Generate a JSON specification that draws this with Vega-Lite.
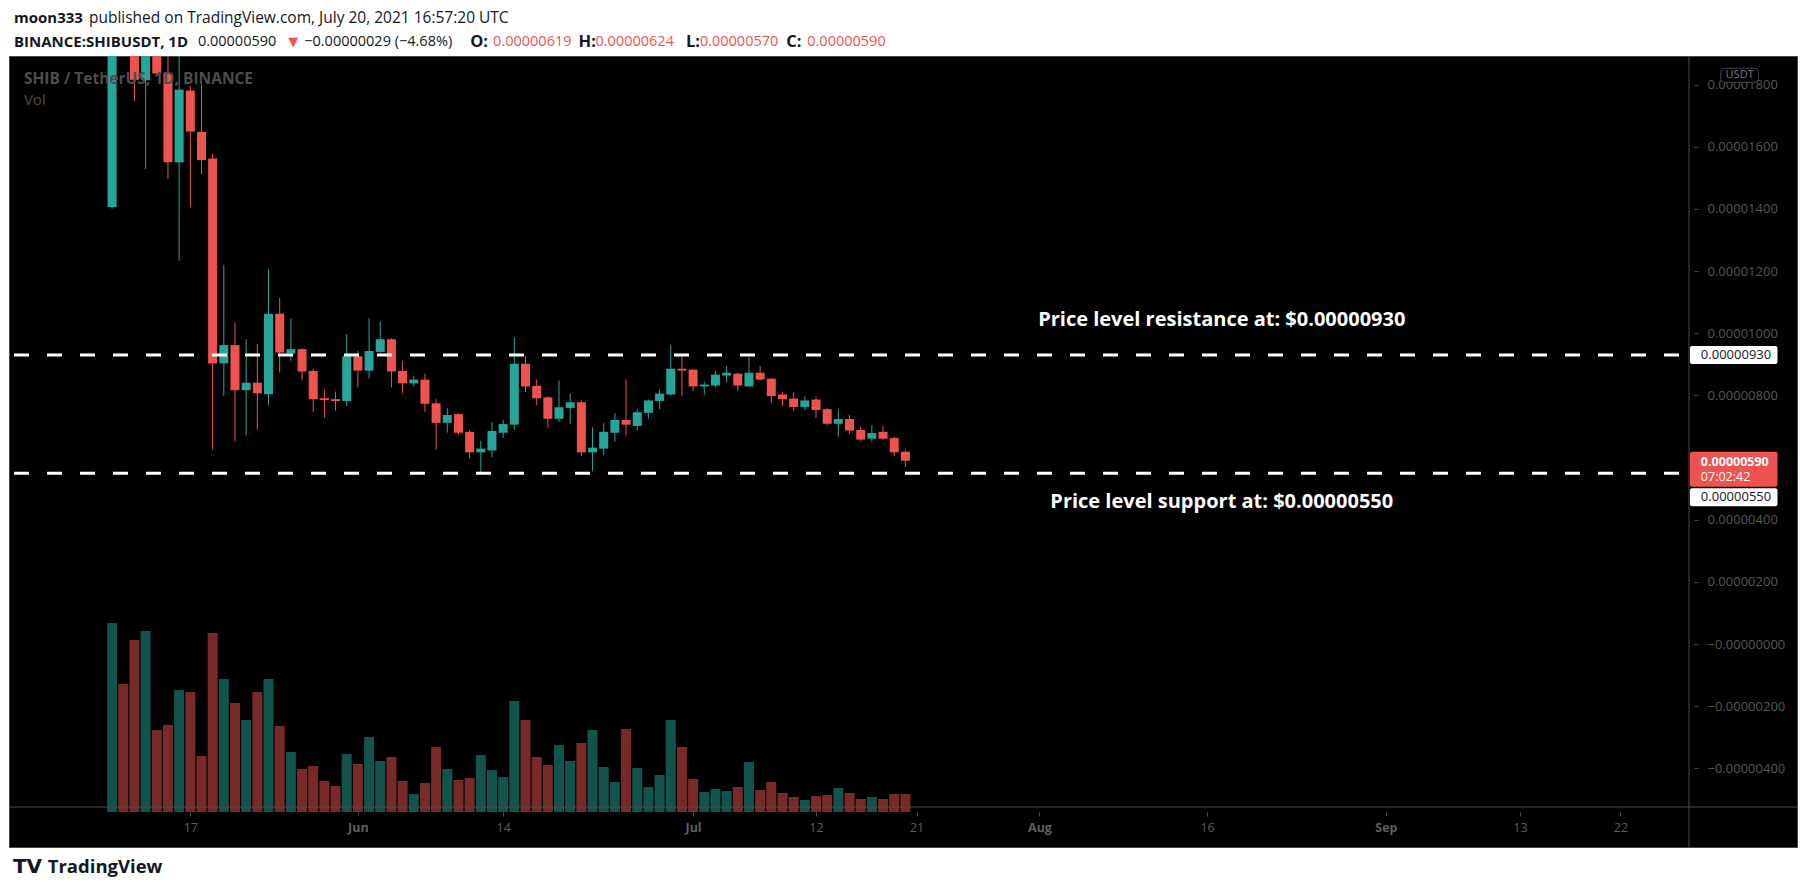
{
  "$schema": "https://vega.github.io/schema/vega-lite/v6.json",
  "width": 1788,
  "height": 791,
  "autosize": {"type": "none"},
  "padding": {"left": 9, "top": 56, "right": 8, "bottom": 47},
  "background": "white",
  "config": {
    "view": {"fill": "#000000", "stroke": "#4a4a4a", "strokeWidth": 1},
    "font": "Open Sans"
  },
  "datasets": {
    "ohlc": [
      {"date": "2021-05-10", "open": 0.00001406, "high": 0.0000388, "low": 0.000014, "close": 0.0000295, "vol": 18.9},
      {"date": "2021-05-11", "open": 0.0000295, "high": 0.000033, "low": 0.0000205, "close": 0.0000225, "vol": 12.8},
      {"date": "2021-05-12", "open": 0.0000225, "high": 0.0000235, "low": 0.00001747, "close": 0.00001816, "vol": 17.2},
      {"date": "2021-05-13", "open": 0.00001814, "high": 0.000023, "low": 0.00001528, "close": 0.0000205, "vol": 18.1},
      {"date": "2021-05-14", "open": 0.0000205, "high": 0.0000215, "low": 0.00001826, "close": 0.00001836, "vol": 8.2},
      {"date": "2021-05-15", "open": 0.00001838, "high": 0.0000195, "low": 0.00001496, "close": 0.0000155, "vol": 8.7},
      {"date": "2021-05-16", "open": 0.0000155, "high": 0.0000195, "low": 0.00001233, "close": 0.00001784, "vol": 12.2},
      {"date": "2021-05-17", "open": 0.00001781, "high": 0.00001795, "low": 0.00001406, "close": 0.00001649, "vol": 12.0},
      {"date": "2021-05-18", "open": 0.00001648, "high": 0.000018, "low": 0.00001512, "close": 0.00001557, "vol": 5.6},
      {"date": "2021-05-19", "open": 0.00001562, "high": 0.00001578, "low": 0.00000626, "close": 0.00000903, "vol": 17.9},
      {"date": "2021-05-20", "open": 0.00000903, "high": 0.00001219, "low": 0.00000798, "close": 0.00000962, "vol": 13.3},
      {"date": "2021-05-21", "open": 0.00000962, "high": 0.00001035, "low": 0.00000652, "close": 0.00000817, "vol": 10.9},
      {"date": "2021-05-22", "open": 0.00000817, "high": 0.00000981, "low": 0.00000671, "close": 0.00000841, "vol": 9.2},
      {"date": "2021-05-23", "open": 0.00000841, "high": 0.00000965, "low": 0.0000069, "close": 0.00000807, "vol": 12.0},
      {"date": "2021-05-24", "open": 0.00000804, "high": 0.00001206, "low": 0.00000769, "close": 0.00001063, "vol": 13.3},
      {"date": "2021-05-25", "open": 0.00001063, "high": 0.00001114, "low": 0.00000874, "close": 0.00000938, "vol": 8.6},
      {"date": "2021-05-26", "open": 0.00000935, "high": 0.00001048, "low": 0.00000911, "close": 0.00000949, "vol": 6.0},
      {"date": "2021-05-27", "open": 0.00000949, "high": 0.00000952, "low": 0.00000849, "close": 0.00000877, "vol": 4.3},
      {"date": "2021-05-28", "open": 0.00000879, "high": 0.00000886, "low": 0.00000747, "close": 0.00000788, "vol": 4.6},
      {"date": "2021-05-29", "open": 0.00000791, "high": 0.00000819, "low": 0.00000728, "close": 0.00000785, "vol": 3.1},
      {"date": "2021-05-30", "open": 0.00000788, "high": 0.00000813, "low": 0.00000751, "close": 0.00000782, "vol": 2.6},
      {"date": "2021-05-31", "open": 0.00000782, "high": 0.00000997, "low": 0.00000766, "close": 0.00000926, "vol": 5.8},
      {"date": "2021-06-01", "open": 0.00000926, "high": 0.00000943, "low": 0.00000826, "close": 0.0000088, "vol": 4.8},
      {"date": "2021-06-02", "open": 0.0000088, "high": 0.00001048, "low": 0.00000855, "close": 0.00000943, "vol": 7.5},
      {"date": "2021-06-03", "open": 0.0000094, "high": 0.00001038, "low": 0.00000938, "close": 0.00000981, "vol": 5.1},
      {"date": "2021-06-04", "open": 0.00000981, "high": 0.00000984, "low": 0.00000826, "close": 0.00000877, "vol": 5.5},
      {"date": "2021-06-05", "open": 0.00000879, "high": 0.00000911, "low": 0.00000807, "close": 0.00000839, "vol": 3.1},
      {"date": "2021-06-06", "open": 0.00000839, "high": 0.00000863, "low": 0.00000829, "close": 0.00000851, "vol": 1.8},
      {"date": "2021-06-07", "open": 0.00000851, "high": 0.0000087, "low": 0.00000747, "close": 0.00000773, "vol": 2.9},
      {"date": "2021-06-08", "open": 0.00000775, "high": 0.00000788, "low": 0.00000626, "close": 0.00000712, "vol": 6.5},
      {"date": "2021-06-09", "open": 0.00000712, "high": 0.00000759, "low": 0.0000068, "close": 0.00000737, "vol": 4.3},
      {"date": "2021-06-10", "open": 0.0000074, "high": 0.00000743, "low": 0.00000674, "close": 0.0000068, "vol": 3.2},
      {"date": "2021-06-11", "open": 0.00000683, "high": 0.00000689, "low": 0.00000598, "close": 0.00000617, "vol": 3.4},
      {"date": "2021-06-12", "open": 0.00000617, "high": 0.00000654, "low": 0.00000553, "close": 0.00000629, "vol": 5.7},
      {"date": "2021-06-13", "open": 0.00000623, "high": 0.00000714, "low": 0.00000601, "close": 0.00000686, "vol": 4.2},
      {"date": "2021-06-14", "open": 0.0000068, "high": 0.00000721, "low": 0.00000664, "close": 0.00000708, "vol": 3.5},
      {"date": "2021-06-15", "open": 0.00000706, "high": 0.00000987, "low": 0.0000069, "close": 0.00000902, "vol": 11.1},
      {"date": "2021-06-16", "open": 0.00000902, "high": 0.00000927, "low": 0.00000811, "close": 0.00000829, "vol": 9.2},
      {"date": "2021-06-17", "open": 0.00000831, "high": 0.00000851, "low": 0.00000769, "close": 0.00000791, "vol": 5.5},
      {"date": "2021-06-18", "open": 0.00000794, "high": 0.00000797, "low": 0.00000696, "close": 0.00000725, "vol": 4.7},
      {"date": "2021-06-19", "open": 0.00000725, "high": 0.00000848, "low": 0.00000715, "close": 0.00000762, "vol": 6.7},
      {"date": "2021-06-20", "open": 0.0000076, "high": 0.00000806, "low": 0.00000709, "close": 0.00000778, "vol": 5.1},
      {"date": "2021-06-21", "open": 0.00000778, "high": 0.00000784, "low": 0.00000604, "close": 0.00000617, "vol": 6.9},
      {"date": "2021-06-22", "open": 0.00000617, "high": 0.00000698, "low": 0.00000556, "close": 0.00000632, "vol": 8.2},
      {"date": "2021-06-23", "open": 0.00000629, "high": 0.00000711, "low": 0.00000607, "close": 0.00000683, "vol": 4.5},
      {"date": "2021-06-24", "open": 0.0000068, "high": 0.00000743, "low": 0.00000652, "close": 0.00000721, "vol": 3.0},
      {"date": "2021-06-25", "open": 0.00000721, "high": 0.00000851, "low": 0.00000671, "close": 0.00000706, "vol": 8.3},
      {"date": "2021-06-26", "open": 0.00000702, "high": 0.00000756, "low": 0.00000687, "close": 0.00000746, "vol": 4.4},
      {"date": "2021-06-27", "open": 0.00000744, "high": 0.00000787, "low": 0.00000725, "close": 0.00000784, "vol": 2.5},
      {"date": "2021-06-28", "open": 0.00000782, "high": 0.00000819, "low": 0.00000756, "close": 0.00000806, "vol": 3.7},
      {"date": "2021-06-29", "open": 0.00000803, "high": 0.00000962, "low": 0.00000801, "close": 0.00000886, "vol": 9.2},
      {"date": "2021-06-30", "open": 0.00000886, "high": 0.00000927, "low": 0.00000798, "close": 0.0000088, "vol": 6.5},
      {"date": "2021-07-01", "open": 0.00000883, "high": 0.00000884, "low": 0.00000814, "close": 0.00000829, "vol": 3.3},
      {"date": "2021-07-02", "open": 0.00000829, "high": 0.00000844, "low": 0.00000801, "close": 0.00000835, "vol": 2.0},
      {"date": "2021-07-03", "open": 0.00000832, "high": 0.00000879, "low": 0.00000826, "close": 0.00000867, "vol": 2.3},
      {"date": "2021-07-04", "open": 0.00000864, "high": 0.00000895, "low": 0.00000842, "close": 0.00000873, "vol": 2.1},
      {"date": "2021-07-05", "open": 0.0000087, "high": 0.00000873, "low": 0.00000814, "close": 0.00000832, "vol": 2.5},
      {"date": "2021-07-06", "open": 0.00000829, "high": 0.00000924, "low": 0.00000828, "close": 0.00000873, "vol": 5.0},
      {"date": "2021-07-07", "open": 0.00000873, "high": 0.00000895, "low": 0.00000849, "close": 0.00000851, "vol": 2.2},
      {"date": "2021-07-08", "open": 0.00000854, "high": 0.00000855, "low": 0.00000775, "close": 0.00000798, "vol": 3.0},
      {"date": "2021-07-09", "open": 0.00000803, "high": 0.0000081, "low": 0.00000766, "close": 0.00000788, "vol": 1.9},
      {"date": "2021-07-10", "open": 0.0000079, "high": 0.0000081, "low": 0.00000751, "close": 0.00000763, "vol": 1.5},
      {"date": "2021-07-11", "open": 0.00000763, "high": 0.00000797, "low": 0.00000753, "close": 0.00000784, "vol": 1.2},
      {"date": "2021-07-12", "open": 0.00000787, "high": 0.00000797, "low": 0.00000728, "close": 0.00000753, "vol": 1.6},
      {"date": "2021-07-13", "open": 0.00000756, "high": 0.00000759, "low": 0.00000703, "close": 0.00000709, "vol": 1.7},
      {"date": "2021-07-14", "open": 0.00000709, "high": 0.00000756, "low": 0.00000668, "close": 0.00000724, "vol": 2.4},
      {"date": "2021-07-15", "open": 0.00000724, "high": 0.00000737, "low": 0.00000677, "close": 0.00000687, "vol": 1.9},
      {"date": "2021-07-16", "open": 0.00000689, "high": 0.00000698, "low": 0.00000652, "close": 0.00000658, "vol": 1.3},
      {"date": "2021-07-17", "open": 0.00000661, "high": 0.00000705, "low": 0.00000652, "close": 0.00000679, "vol": 1.5},
      {"date": "2021-07-18", "open": 0.00000683, "high": 0.00000702, "low": 0.00000658, "close": 0.00000661, "vol": 1.3},
      {"date": "2021-07-19", "open": 0.00000663, "high": 0.00000667, "low": 0.00000604, "close": 0.00000617, "vol": 1.8},
      {"date": "2021-07-20", "open": 0.00000619, "high": 0.00000624, "low": 0.0000057, "close": 0.0000059, "vol": 1.8}
    ],
    "levels": [
      {"kind": "resistance", "price": 0.0000093, "tag": "0.00000930", "note": "Price level resistance at: $0.00000930"},
      {"kind": "support", "price": 0.0000055, "tag": "0.00000550", "note": "Price level support at: $0.00000550"}
    ],
    "last": [
      {"price": 0.0000059, "tag": "0.00000590", "countdown": "07:02:42"}
    ]
  },
  "layer": [
    {
      "data": {"name": "ohlc"},
      "mark": {"type": "bar", "size": 10},
      "encoding": {
        "x": {
          "field": "date",
          "type": "temporal",
          "scale": {
            "type": "utc",
            "domain": [
              {"year": 2021, "month": 5, "date": 1, "hours": 5, "minutes": 18, "utc": true},
              {"year": 2021, "month": 9, "date": 28, "hours": 3, "minutes": 12, "utc": true}
            ],
            "range": [0, 1685],
            "nice": false
          }
        },
        "y": {
          "field": "vol",
          "type": "quantitative",
          "scale": {"domain": [0, 75.6], "range": [756, 0], "nice": false},
          "axis": null
        },
        "color": {
          "condition": {"test": "datum.close >= datum.open", "value": "#13534d"},
          "value": "#782a28"
        }
      }
    },
    {
      "layer": [
        {
          "data": {"values": [{}]},
          "mark": {"type": "rule", "color": "#4a4a4a", "strokeWidth": 1},
          "encoding": {
            "y": {"datum": -0.00000524, "type": "quantitative"}
          }
        },
        {
          "data": {"values": [{}]},
          "mark": {"type": "rule", "color": "#4a4a4a", "strokeWidth": 1},
          "encoding": {
            "x": {"datum": {"year": 2021, "month": 9, "date": 28, "hours": 3, "minutes": 12, "utc": true}, "type": "temporal"}
          }
        },
        {
          "data": {"name": "ohlc"},
          "mark": {"type": "rule", "strokeWidth": 1, "clip": true},
          "encoding": {
            "x": {
              "field": "date",
              "type": "temporal",
              "axis": {
                "orient": "bottom",
                "offset": -35,
                "title": null,
                "domain": false,
                "grid": false,
                "tickSize": 4,
                "tickColor": "#4a4a4a",
                "labelColor": "#5e5e5e",
                "labelFont": "Open Sans",
                "labelFontSize": 12.5,
                "labelPadding": 5,
                "labelOverlap": false,
                "labelFlush": false,
                "values": [
                  {"year": 2021, "month": 5, "date": 17, "utc": true},
                  {"year": 2021, "month": 6, "date": 1, "utc": true},
                  {"year": 2021, "month": 6, "date": 14, "utc": true},
                  {"year": 2021, "month": 7, "date": 1, "utc": true},
                  {"year": 2021, "month": 7, "date": 12, "utc": true},
                  {"year": 2021, "month": 7, "date": 21, "utc": true},
                  {"year": 2021, "month": 8, "date": 1, "utc": true},
                  {"year": 2021, "month": 8, "date": 16, "utc": true},
                  {"year": 2021, "month": 9, "date": 1, "utc": true},
                  {"year": 2021, "month": 9, "date": 13, "utc": true},
                  {"year": 2021, "month": 9, "date": 22, "utc": true}
                ],
                "labelExpr": "utcdate(datum.value) == 1 ? utcFormat(datum.value, '%b') : '' + utcdate(datum.value)",
                "labelFontWeight": {"condition": {"test": "utcdate(datum.value) == 1", "value": "bold"}, "value": "normal"}
              }
            },
            "y": {
              "field": "low",
              "type": "quantitative",
              "scale": {"domain": [-0.00000524, 0.00001876], "range": [756, 0], "nice": false, "zero": false},
              "axis": {
                "orient": "right",
                "offset": -103,
                "title": null,
                "domain": false,
                "grid": false,
                "tickSize": 4,
                "tickColor": "#4a4a4a",
                "labelColor": "#575757",
                "labelFont": "Open Sans",
                "labelFontSize": 13,
                "labelPadding": 9,
                "labelOverlap": false,
                "values": [-0.000004, -0.000002, 0, 0.000002, 0.000004, 0.000008, 0.00001, 0.000012, 0.000014, 0.000016, 0.000018],
                "labelExpr": "(datum.value < 1e-9 ? '\u2212' : '') + format(abs(datum.value), '.8f')"
              }
            },
            "y2": {"field": "high"},
            "color": {
              "condition": {"test": "datum.close >= datum.open", "value": "#26a69a"},
              "value": "#ef5350"
            }
          }
        },
        {
          "data": {"name": "ohlc"},
          "mark": {"type": "bar", "size": 9, "clip": true},
          "encoding": {
            "x": {"field": "date", "type": "temporal"},
            "y": {"field": "open", "type": "quantitative"},
            "y2": {"field": "close"},
            "color": {
              "condition": {"test": "datum.close >= datum.open", "value": "#26a69a"},
              "value": "#ef5350"
            }
          }
        },
        {
          "data": {"values": [{"s": "SHIB / TetherUS, 1D, BINANCE"}]},
          "mark": {"type": "text", "align": "left", "baseline": "middle", "font": "Open Sans", "fontSize": 15.5, "fontWeight": "bold", "color": "#4d4d4d"},
          "encoding": {
            "x": {"datum": {"year": 2021, "month": 5, "date": 2, "hours": 2, "minutes": 36, "utc": true}, "type": "temporal"},
            "y": {"datum": 0.00001819, "type": "quantitative"},
            "text": {"field": "s"}
          }
        },
        {
          "data": {"values": [{"s": "Vol"}]},
          "mark": {"type": "text", "align": "left", "baseline": "middle", "font": "Open Sans", "fontSize": 15, "color": "#4d4d4d"},
          "encoding": {
            "x": {"datum": {"year": 2021, "month": 5, "date": 2, "hours": 2, "minutes": 36, "utc": true}, "type": "temporal"},
            "y": {"datum": 0.00001752, "type": "quantitative"},
            "text": {"field": "s"}
          }
        },
        {
          "data": {"name": "levels"},
          "mark": {"type": "rule", "color": "#ffffff", "strokeWidth": 3, "strokeDash": [15, 18]},
          "encoding": {
            "x": {"datum": {"year": 2021, "month": 5, "date": 1, "hours": 5, "minutes": 18, "utc": true}, "type": "temporal"},
            "x2": {"datum": {"year": 2021, "month": 9, "date": 28, "hours": 3, "minutes": 12, "utc": true}},
            "y": {"field": "price", "type": "quantitative"}
          }
        },
        {
          "data": {"name": "levels"},
          "transform": [{"filter": "datum.kind == 'resistance'"}],
          "mark": {"type": "text", "align": "center", "baseline": "middle", "dy": -35, "font": "Open Sans", "fontSize": 20, "fontWeight": "bold", "color": "#ffffff"},
          "encoding": {
            "x": {"datum": {"year": 2021, "month": 8, "date": 17, "hours": 7, "minutes": 36, "utc": true}, "type": "temporal"},
            "y": {"field": "price", "type": "quantitative"},
            "text": {"field": "note"}
          }
        },
        {
          "data": {"name": "levels"},
          "transform": [{"filter": "datum.kind == 'support'"}],
          "mark": {"type": "text", "align": "center", "baseline": "middle", "dy": 29, "font": "Open Sans", "fontSize": 20, "fontWeight": "bold", "color": "#ffffff"},
          "encoding": {
            "x": {"datum": {"year": 2021, "month": 8, "date": 17, "hours": 7, "minutes": 36, "utc": true}, "type": "temporal"},
            "y": {"field": "price", "type": "quantitative"},
            "text": {"field": "note"}
          }
        },
        {
          "data": {"name": "levels"},
          "transform": [{"filter": "datum.kind == 'resistance'"}],
          "mark": {"type": "bar", "size": 18, "color": "#ffffff", "cornerRadius": 2},
          "encoding": {
            "x": {"datum": {"year": 2021, "month": 9, "date": 28, "hours": 5, "minutes": 18, "utc": true}, "type": "temporal"},
            "x2": {"datum": {"year": 2021, "month": 10, "date": 6, "hours": 1, "minutes": 18, "utc": true}},
            "y": {"field": "price", "type": "quantitative"}
          }
        },
        {
          "data": {"name": "levels"},
          "transform": [{"filter": "datum.kind == 'support'"}],
          "mark": {"type": "bar", "size": 18, "yOffset": 24, "color": "#ffffff", "cornerRadius": 2},
          "encoding": {
            "x": {"datum": {"year": 2021, "month": 9, "date": 28, "hours": 5, "minutes": 18, "utc": true}, "type": "temporal"},
            "x2": {"datum": {"year": 2021, "month": 10, "date": 6, "hours": 1, "minutes": 18, "utc": true}},
            "y": {"field": "price", "type": "quantitative"}
          }
        },
        {
          "data": {"name": "last"},
          "mark": {"type": "bar", "size": 35, "yOffset": 8.5, "color": "#ef5350", "cornerRadius": 2},
          "encoding": {
            "x": {"datum": {"year": 2021, "month": 9, "date": 28, "hours": 5, "minutes": 18, "utc": true}, "type": "temporal"},
            "x2": {"datum": {"year": 2021, "month": 10, "date": 6, "hours": 1, "minutes": 18, "utc": true}},
            "y": {"field": "price", "type": "quantitative"}
          }
        },
        {
          "data": {"name": "levels"},
          "transform": [{"filter": "datum.kind == 'resistance'"}],
          "mark": {"type": "text", "align": "left", "baseline": "middle", "font": "Open Sans", "fontSize": 13, "color": "#131722"},
          "encoding": {
            "x": {"datum": {"year": 2021, "month": 9, "date": 29, "hours": 4, "minutes": 42, "utc": true}, "type": "temporal"},
            "y": {"field": "price", "type": "quantitative"},
            "text": {"field": "tag"}
          }
        },
        {
          "data": {"name": "levels"},
          "transform": [{"filter": "datum.kind == 'support'"}],
          "mark": {"type": "text", "align": "left", "baseline": "middle", "dy": 24, "font": "Open Sans", "fontSize": 13, "color": "#131722"},
          "encoding": {
            "x": {"datum": {"year": 2021, "month": 9, "date": 29, "hours": 4, "minutes": 42, "utc": true}, "type": "temporal"},
            "y": {"field": "price", "type": "quantitative"},
            "text": {"field": "tag"}
          }
        },
        {
          "data": {"name": "last"},
          "mark": {"type": "text", "align": "left", "baseline": "middle", "dy": 1.5, "font": "Open Sans", "fontSize": 12.5, "fontWeight": "bold", "color": "#ffffff"},
          "encoding": {
            "x": {"datum": {"year": 2021, "month": 9, "date": 29, "hours": 4, "minutes": 42, "utc": true}, "type": "temporal"},
            "y": {"field": "price", "type": "quantitative"},
            "text": {"field": "tag"}
          }
        },
        {
          "data": {"name": "last"},
          "mark": {"type": "text", "align": "left", "baseline": "middle", "dy": 16.5, "font": "Open Sans", "fontSize": 12.5, "color": "#ffffff"},
          "encoding": {
            "x": {"datum": {"year": 2021, "month": 9, "date": 29, "hours": 4, "minutes": 42, "utc": true}, "type": "temporal"},
            "y": {"field": "price", "type": "quantitative"},
            "text": {"field": "countdown"}
          }
        },
        {
          "data": {"values": [{}]},
          "mark": {"type": "bar", "size": 14, "color": "#000000", "stroke": "#434651", "strokeWidth": 1, "cornerRadius": 4},
          "encoding": {
            "x": {"datum": {"year": 2021, "month": 9, "date": 30, "hours": 23, "minutes": 24, "utc": true}, "type": "temporal"},
            "x2": {"datum": {"year": 2021, "month": 10, "date": 4, "hours": 8, "minutes": 36, "utc": true}},
            "y": {"datum": 0.0000183, "type": "quantitative"}
          }
        },
        {
          "data": {"values": [{"s": "USDT"}]},
          "mark": {"type": "text", "align": "center", "baseline": "middle", "font": "Open Sans", "fontSize": 11, "color": "#787b86"},
          "encoding": {
            "x": {"datum": {"year": 2021, "month": 10, "date": 2, "hours": 16, "utc": true}, "type": "temporal"},
            "y": {"datum": 0.0000183, "type": "quantitative"},
            "text": {"field": "s"}
          }
        },
        {
          "data": {"values": [{"s": "moon333"}]},
          "mark": {"type": "text", "align": "left", "baseline": "middle", "font": "Open Sans", "fontSize": 15, "fontWeight": "bold", "color": "#131722"},
          "encoding": {
            "x": {"datum": {"year": 2021, "month": 5, "date": 1, "hours": 5, "minutes": 18, "utc": true}, "type": "temporal"},
            "y": {"datum": 0.00002013, "type": "quantitative"},
            "text": {"field": "s"}
          }
        },
        {
          "data": {"values": [{"s": "published on TradingView.com, July 20, 2021 16:57:20 UTC"}]},
          "mark": {"type": "text", "align": "left", "baseline": "middle", "font": "Open Sans", "fontSize": 15.5, "color": "#131722"},
          "encoding": {
            "x": {"datum": {"year": 2021, "month": 5, "date": 7, "hours": 22, "minutes": 15, "utc": true}, "type": "temporal"},
            "y": {"datum": 0.00002013, "type": "quantitative"},
            "text": {"field": "s"}
          }
        },
        {
          "data": {"values": [{"s": "BINANCE:SHIBUSDT, 1D"}]},
          "mark": {"type": "text", "align": "left", "baseline": "middle", "font": "Open Sans", "fontSize": 15, "fontWeight": "bold", "color": "#131722"},
          "encoding": {
            "x": {"datum": {"year": 2021, "month": 5, "date": 1, "hours": 5, "minutes": 18, "utc": true}, "type": "temporal"},
            "y": {"datum": 0.00001937, "type": "quantitative"},
            "text": {"field": "s"}
          }
        },
        {
          "data": {"values": [{"s": "0.00000590"}]},
          "mark": {"type": "text", "align": "left", "baseline": "middle", "font": "Open Sans", "fontSize": 14.5, "color": "#131722"},
          "encoding": {
            "x": {"datum": {"year": 2021, "month": 5, "date": 17, "hours": 16, "minutes": 18, "utc": true}, "type": "temporal"},
            "y": {"datum": 0.00001937, "type": "quantitative"},
            "text": {"field": "s"}
          }
        },
        {
          "data": {"values": [{"s": "\u25bc"}]},
          "mark": {"type": "text", "align": "left", "baseline": "middle", "font": "DejaVu Sans", "fontSize": 13, "color": "#ef5350"},
          "encoding": {
            "x": {"datum": {"year": 2021, "month": 5, "date": 25, "hours": 18, "minutes": 36, "utc": true}, "type": "temporal"},
            "y": {"datum": 0.00001937, "type": "quantitative"},
            "text": {"field": "s"}
          }
        },
        {
          "data": {"values": [{"s": "\u22120.00000029 (\u22124.68%)"}]},
          "mark": {"type": "text", "align": "left", "baseline": "middle", "font": "Open Sans", "fontSize": 14.5, "color": "#131722"},
          "encoding": {
            "x": {"datum": {"year": 2021, "month": 5, "date": 27, "hours": 4, "minutes": 42, "utc": true}, "type": "temporal"},
            "y": {"datum": 0.00001937, "type": "quantitative"},
            "text": {"field": "s"}
          }
        },
        {
          "data": {"values": [{"s": "O:"}]},
          "mark": {"type": "text", "align": "left", "baseline": "middle", "font": "Open Sans", "fontSize": 16.5, "fontWeight": "bold", "color": "#131722"},
          "encoding": {
            "x": {"datum": {"year": 2021, "month": 6, "date": 11, "hours": 1, "minutes": 18, "utc": true}, "type": "temporal"},
            "y": {"datum": 0.00001937, "type": "quantitative"},
            "text": {"field": "s"}
          }
        },
        {
          "data": {"values": [{"s": "0.00000619"}]},
          "mark": {"type": "text", "align": "left", "baseline": "middle", "font": "Open Sans", "fontSize": 14.5, "color": "#ef5350"},
          "encoding": {
            "x": {"datum": {"year": 2021, "month": 6, "date": 13, "hours": 2, "minutes": 24, "utc": true}, "type": "temporal"},
            "y": {"datum": 0.00001937, "type": "quantitative"},
            "text": {"field": "s"}
          }
        },
        {
          "data": {"values": [{"s": "H:"}]},
          "mark": {"type": "text", "align": "left", "baseline": "middle", "font": "Open Sans", "fontSize": 16.5, "fontWeight": "bold", "color": "#131722"},
          "encoding": {
            "x": {"datum": {"year": 2021, "month": 6, "date": 20, "hours": 18, "minutes": 6, "utc": true}, "type": "temporal"},
            "y": {"datum": 0.00001937, "type": "quantitative"},
            "text": {"field": "s"}
          }
        },
        {
          "data": {"values": [{"s": "0.00000624"}]},
          "mark": {"type": "text", "align": "left", "baseline": "middle", "font": "Open Sans", "fontSize": 14.5, "color": "#ef5350"},
          "encoding": {
            "x": {"datum": {"year": 2021, "month": 6, "date": 22, "hours": 6, "minutes": 24, "utc": true}, "type": "temporal"},
            "y": {"datum": 0.00001937, "type": "quantitative"},
            "text": {"field": "s"}
          }
        },
        {
          "data": {"values": [{"s": "L:"}]},
          "mark": {"type": "text", "align": "left", "baseline": "middle", "font": "Open Sans", "fontSize": 16.5, "fontWeight": "bold", "color": "#131722"},
          "encoding": {
            "x": {"datum": {"year": 2021, "month": 6, "date": 30, "hours": 8, "minutes": 42, "utc": true}, "type": "temporal"},
            "y": {"datum": 0.00001937, "type": "quantitative"},
            "text": {"field": "s"}
          }
        },
        {
          "data": {"values": [{"s": "0.00000570"}]},
          "mark": {"type": "text", "align": "left", "baseline": "middle", "font": "Open Sans", "fontSize": 14.5, "color": "#ef5350"},
          "encoding": {
            "x": {"datum": {"year": 2021, "month": 7, "date": 1, "hours": 14, "minutes": 36, "utc": true}, "type": "temporal"},
            "y": {"datum": 0.00001937, "type": "quantitative"},
            "text": {"field": "s"}
          }
        },
        {
          "data": {"values": [{"s": "C:"}]},
          "mark": {"type": "text", "align": "left", "baseline": "middle", "font": "Open Sans", "fontSize": 16.5, "fontWeight": "bold", "color": "#131722"},
          "encoding": {
            "x": {"datum": {"year": 2021, "month": 7, "date": 9, "hours": 8, "minutes": 18, "utc": true}, "type": "temporal"},
            "y": {"datum": 0.00001937, "type": "quantitative"},
            "text": {"field": "s"}
          }
        },
        {
          "data": {"values": [{"s": "0.00000590"}]},
          "mark": {"type": "text", "align": "left", "baseline": "middle", "font": "Open Sans", "fontSize": 14.5, "color": "#ef5350"},
          "encoding": {
            "x": {"datum": {"year": 2021, "month": 7, "date": 11, "hours": 5, "minutes": 12, "utc": true}, "type": "temporal"},
            "y": {"datum": 0.00001937, "type": "quantitative"},
            "text": {"field": "s"}
          }
        },
        {
          "data": {"values": [{"s": "TV"}]},
          "mark": {"type": "text", "align": "left", "baseline": "middle", "font": "DejaVu Sans", "fontSize": 20, "fontWeight": "bold", "color": "#131722"},
          "encoding": {
            "x": {"datum": {"year": 2021, "month": 5, "date": 1, "hours": 3, "minutes": 6, "utc": true}, "type": "temporal"},
            "y": {"datum": -0.00000716, "type": "quantitative"},
            "text": {"field": "s"}
          }
        },
        {
          "data": {"values": [{"s": "TradingView"}]},
          "mark": {"type": "text", "align": "left", "baseline": "middle", "font": "Open Sans", "fontSize": 18.5, "fontWeight": "bold", "color": "#131722"},
          "encoding": {
            "x": {"datum": {"year": 2021, "month": 5, "date": 4, "hours": 5, "minutes": 48, "utc": true}, "type": "temporal"},
            "y": {"datum": -0.00000716, "type": "quantitative"},
            "text": {"field": "s"}
          }
        }
      ]
    }
  ],
  "resolve": {"scale": {"y": "independent"}}
}
